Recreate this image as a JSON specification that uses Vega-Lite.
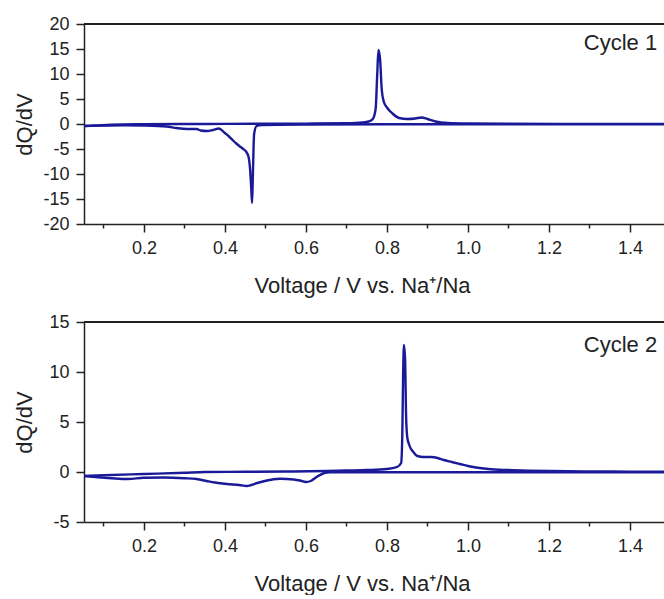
{
  "$schema": "https://vega.github.io/schema/vega-lite/v6.json",
  "padding": {"left": 13, "top": 15, "right": 0, "bottom": 1},
  "spacing": 17,
  "config": {
    "view": {"stroke": null},
    "font": "Liberation Sans",
    "axis": {
      "grid": false, "domainColor": "#222", "domainWidth": 1.5, "tickColor": "#222", "tickWidth": 1.5,
      "labelColor": "#222", "titleColor": "#222", "labelFont": "Liberation Sans", "titleFont": "Liberation Sans",
      "labelFontSize": 18, "titleFontSize": 22, "titleFontWeight": "normal", "tickSize": 8, "labelPadding": 7,
      "labelFlush": false, "labelOverlap": false
    }
  },
  "data": {"values": [
    {"cycle": 1, "branch": "charge", "v": 0.052, "dq": -0.4},
    {"cycle": 1, "branch": "charge", "v": 0.08, "dq": -0.3},
    {"cycle": 1, "branch": "charge", "v": 0.12, "dq": -0.15},
    {"cycle": 1, "branch": "charge", "v": 0.2, "dq": -0.05},
    {"cycle": 1, "branch": "charge", "v": 0.3, "dq": 0.0},
    {"cycle": 1, "branch": "charge", "v": 0.4, "dq": 0.02},
    {"cycle": 1, "branch": "charge", "v": 0.5, "dq": 0.05},
    {"cycle": 1, "branch": "charge", "v": 0.6, "dq": 0.08},
    {"cycle": 1, "branch": "charge", "v": 0.7, "dq": 0.15},
    {"cycle": 1, "branch": "charge", "v": 0.74, "dq": 0.3},
    {"cycle": 1, "branch": "charge", "v": 0.755, "dq": 0.5},
    {"cycle": 1, "branch": "charge", "v": 0.765, "dq": 1.0},
    {"cycle": 1, "branch": "charge", "v": 0.772, "dq": 3.0},
    {"cycle": 1, "branch": "charge", "v": 0.776, "dq": 10},
    {"cycle": 1, "branch": "charge", "v": 0.779, "dq": 14.8},
    {"cycle": 1, "branch": "charge", "v": 0.783, "dq": 13},
    {"cycle": 1, "branch": "charge", "v": 0.787, "dq": 7},
    {"cycle": 1, "branch": "charge", "v": 0.792, "dq": 4.5},
    {"cycle": 1, "branch": "charge", "v": 0.8, "dq": 3.3},
    {"cycle": 1, "branch": "charge", "v": 0.815, "dq": 2.0},
    {"cycle": 1, "branch": "charge", "v": 0.83, "dq": 1.2},
    {"cycle": 1, "branch": "charge", "v": 0.85, "dq": 1.0},
    {"cycle": 1, "branch": "charge", "v": 0.87, "dq": 1.1},
    {"cycle": 1, "branch": "charge", "v": 0.885, "dq": 1.3},
    {"cycle": 1, "branch": "charge", "v": 0.9, "dq": 1.0},
    {"cycle": 1, "branch": "charge", "v": 0.92, "dq": 0.5},
    {"cycle": 1, "branch": "charge", "v": 0.95, "dq": 0.2},
    {"cycle": 1, "branch": "charge", "v": 1.0, "dq": 0.1},
    {"cycle": 1, "branch": "charge", "v": 1.1, "dq": 0.05},
    {"cycle": 1, "branch": "charge", "v": 1.3, "dq": 0.03},
    {"cycle": 1, "branch": "charge", "v": 1.5, "dq": 0.02},
    {"cycle": 1, "branch": "discharge", "v": 1.5, "dq": -0.05},
    {"cycle": 1, "branch": "discharge", "v": 1.2, "dq": -0.05},
    {"cycle": 1, "branch": "discharge", "v": 1.0, "dq": -0.05},
    {"cycle": 1, "branch": "discharge", "v": 0.8, "dq": -0.05},
    {"cycle": 1, "branch": "discharge", "v": 0.6, "dq": -0.1},
    {"cycle": 1, "branch": "discharge", "v": 0.49, "dq": -0.2},
    {"cycle": 1, "branch": "discharge", "v": 0.478, "dq": -0.4},
    {"cycle": 1, "branch": "discharge", "v": 0.472, "dq": -2},
    {"cycle": 1, "branch": "discharge", "v": 0.469, "dq": -10},
    {"cycle": 1, "branch": "discharge", "v": 0.467, "dq": -15.8},
    {"cycle": 1, "branch": "discharge", "v": 0.465, "dq": -13},
    {"cycle": 1, "branch": "discharge", "v": 0.462, "dq": -9},
    {"cycle": 1, "branch": "discharge", "v": 0.458, "dq": -6.5},
    {"cycle": 1, "branch": "discharge", "v": 0.452, "dq": -5.5},
    {"cycle": 1, "branch": "discharge", "v": 0.445, "dq": -5.0},
    {"cycle": 1, "branch": "discharge", "v": 0.437, "dq": -4.5},
    {"cycle": 1, "branch": "discharge", "v": 0.428, "dq": -3.9},
    {"cycle": 1, "branch": "discharge", "v": 0.42, "dq": -3.3},
    {"cycle": 1, "branch": "discharge", "v": 0.41, "dq": -2.5},
    {"cycle": 1, "branch": "discharge", "v": 0.4, "dq": -1.8},
    {"cycle": 1, "branch": "discharge", "v": 0.39, "dq": -1.1},
    {"cycle": 1, "branch": "discharge", "v": 0.385, "dq": -0.9},
    {"cycle": 1, "branch": "discharge", "v": 0.37, "dq": -1.2},
    {"cycle": 1, "branch": "discharge", "v": 0.356, "dq": -1.4},
    {"cycle": 1, "branch": "discharge", "v": 0.34, "dq": -1.3},
    {"cycle": 1, "branch": "discharge", "v": 0.33, "dq": -1.0},
    {"cycle": 1, "branch": "discharge", "v": 0.306, "dq": -1.0},
    {"cycle": 1, "branch": "discharge", "v": 0.28, "dq": -0.8},
    {"cycle": 1, "branch": "discharge", "v": 0.256, "dq": -0.5},
    {"cycle": 1, "branch": "discharge", "v": 0.2, "dq": -0.3},
    {"cycle": 1, "branch": "discharge", "v": 0.15, "dq": -0.25},
    {"cycle": 1, "branch": "discharge", "v": 0.1, "dq": -0.3},
    {"cycle": 1, "branch": "discharge", "v": 0.052, "dq": -0.4},
    {"cycle": 2, "branch": "charge", "v": 0.052, "dq": -0.4},
    {"cycle": 2, "branch": "charge", "v": 0.1, "dq": -0.32},
    {"cycle": 2, "branch": "charge", "v": 0.2, "dq": -0.2},
    {"cycle": 2, "branch": "charge", "v": 0.3, "dq": -0.08},
    {"cycle": 2, "branch": "charge", "v": 0.35, "dq": 0.0},
    {"cycle": 2, "branch": "charge", "v": 0.45, "dq": 0.02},
    {"cycle": 2, "branch": "charge", "v": 0.55, "dq": 0.05},
    {"cycle": 2, "branch": "charge", "v": 0.65, "dq": 0.1},
    {"cycle": 2, "branch": "charge", "v": 0.7, "dq": 0.15},
    {"cycle": 2, "branch": "charge", "v": 0.75, "dq": 0.2},
    {"cycle": 2, "branch": "charge", "v": 0.8, "dq": 0.3},
    {"cycle": 2, "branch": "charge", "v": 0.825, "dq": 0.5},
    {"cycle": 2, "branch": "charge", "v": 0.835, "dq": 0.9},
    {"cycle": 2, "branch": "charge", "v": 0.838, "dq": 4},
    {"cycle": 2, "branch": "charge", "v": 0.84, "dq": 10},
    {"cycle": 2, "branch": "charge", "v": 0.842, "dq": 12.7},
    {"cycle": 2, "branch": "charge", "v": 0.845, "dq": 11},
    {"cycle": 2, "branch": "charge", "v": 0.847, "dq": 6},
    {"cycle": 2, "branch": "charge", "v": 0.85, "dq": 3.5},
    {"cycle": 2, "branch": "charge", "v": 0.855, "dq": 2.7},
    {"cycle": 2, "branch": "charge", "v": 0.865, "dq": 2.0},
    {"cycle": 2, "branch": "charge", "v": 0.875, "dq": 1.6},
    {"cycle": 2, "branch": "charge", "v": 0.89, "dq": 1.5},
    {"cycle": 2, "branch": "charge", "v": 0.91, "dq": 1.5},
    {"cycle": 2, "branch": "charge", "v": 0.925, "dq": 1.4},
    {"cycle": 2, "branch": "charge", "v": 0.94, "dq": 1.2},
    {"cycle": 2, "branch": "charge", "v": 0.96, "dq": 1.0},
    {"cycle": 2, "branch": "charge", "v": 0.98, "dq": 0.8},
    {"cycle": 2, "branch": "charge", "v": 1.0, "dq": 0.6},
    {"cycle": 2, "branch": "charge", "v": 1.02, "dq": 0.45},
    {"cycle": 2, "branch": "charge", "v": 1.05, "dq": 0.3},
    {"cycle": 2, "branch": "charge", "v": 1.1, "dq": 0.2},
    {"cycle": 2, "branch": "charge", "v": 1.15, "dq": 0.14},
    {"cycle": 2, "branch": "charge", "v": 1.2, "dq": 0.1},
    {"cycle": 2, "branch": "charge", "v": 1.25, "dq": 0.07},
    {"cycle": 2, "branch": "charge", "v": 1.3, "dq": 0.05},
    {"cycle": 2, "branch": "charge", "v": 1.4, "dq": 0.04},
    {"cycle": 2, "branch": "charge", "v": 1.5, "dq": 0.03},
    {"cycle": 2, "branch": "discharge", "v": 1.5, "dq": -0.02},
    {"cycle": 2, "branch": "discharge", "v": 1.2, "dq": -0.02},
    {"cycle": 2, "branch": "discharge", "v": 1.0, "dq": -0.02},
    {"cycle": 2, "branch": "discharge", "v": 0.8, "dq": -0.02},
    {"cycle": 2, "branch": "discharge", "v": 0.66, "dq": -0.02},
    {"cycle": 2, "branch": "discharge", "v": 0.645, "dq": -0.1},
    {"cycle": 2, "branch": "discharge", "v": 0.635, "dq": -0.3},
    {"cycle": 2, "branch": "discharge", "v": 0.626, "dq": -0.5},
    {"cycle": 2, "branch": "discharge", "v": 0.612, "dq": -0.9},
    {"cycle": 2, "branch": "discharge", "v": 0.6, "dq": -1.0},
    {"cycle": 2, "branch": "discharge", "v": 0.585, "dq": -0.85},
    {"cycle": 2, "branch": "discharge", "v": 0.57, "dq": -0.75},
    {"cycle": 2, "branch": "discharge", "v": 0.536, "dq": -0.67},
    {"cycle": 2, "branch": "discharge", "v": 0.52, "dq": -0.72},
    {"cycle": 2, "branch": "discharge", "v": 0.504, "dq": -0.85},
    {"cycle": 2, "branch": "discharge", "v": 0.48, "dq": -1.1},
    {"cycle": 2, "branch": "discharge", "v": 0.465, "dq": -1.3},
    {"cycle": 2, "branch": "discharge", "v": 0.454, "dq": -1.4},
    {"cycle": 2, "branch": "discharge", "v": 0.435, "dq": -1.3},
    {"cycle": 2, "branch": "discharge", "v": 0.405, "dq": -1.2},
    {"cycle": 2, "branch": "discharge", "v": 0.375, "dq": -1.05},
    {"cycle": 2, "branch": "discharge", "v": 0.355, "dq": -0.9},
    {"cycle": 2, "branch": "discharge", "v": 0.33, "dq": -0.7},
    {"cycle": 2, "branch": "discharge", "v": 0.3, "dq": -0.62},
    {"cycle": 2, "branch": "discharge", "v": 0.25, "dq": -0.55},
    {"cycle": 2, "branch": "discharge", "v": 0.2, "dq": -0.58},
    {"cycle": 2, "branch": "discharge", "v": 0.16, "dq": -0.7},
    {"cycle": 2, "branch": "discharge", "v": 0.12, "dq": -0.62},
    {"cycle": 2, "branch": "discharge", "v": 0.08, "dq": -0.5},
    {"cycle": 2, "branch": "discharge", "v": 0.052, "dq": -0.4},
    {"cycle": 1, "label": "Cycle 1", "v": 1.467, "dq": 14.8},
    {"cycle": 2, "label": "Cycle 2", "v": 1.467, "dq": 12}
  ]},
  "vconcat": [
    {
      "width": 580, "height": 200,
      "encoding": {
        "x": {"field": "v", "type": "quantitative", "scale": {"domain": [0.052, 1.484], "nice": false, "zero": false},
          "axis": {"values": [0.1,0.2,0.3,0.4,0.5,0.6,0.7,0.8,0.9,1.0,1.1,1.2,1.3,1.4],
            "labelExpr": "round(datum.value*10) % 2 === 0 ? format(datum.value, '.1f') : ''",
            "labelOverlap": false,
            "tickSize": {"condition": {"test": "round(datum.value*10) % 2 === 0", "value": 8}, "value": 4},
            "title": "Voltage / V vs. Na⁺/Na", "titleX": 278, "titleY": 51, "titleBaseline": "top", "titleAlign": "center"}},
        "y": {"field": "dq", "type": "quantitative", "scale": {"domain": [-20, 20], "nice": false},
          "axis": {"values": [-20,-15,-10,-5,0,5,10,15,20], "labelExpr": "'' + datum.value", "labelOverlap": false,
            "title": "dQ/dV", "titleX": -60, "titleY": 100, "titleAngle": -90, "titleBaseline": "middle", "titleAlign": "center"}}
      },
      "layer": [
        {
          "transform": [{"filter": "datum.cycle === 1 && datum.branch"}],
          "mark": {"type": "line", "color": "#1a1a99", "strokeWidth": 2.4, "clip": true, "interpolate": "monotone"},
          "encoding": {"detail": {"field": "branch"}}
        },
        {
          "mark": {"type": "rule", "color": "#222", "strokeWidth": 1.5},
          "encoding": {"x": {"value": 0}, "x2": {"value": 580},
            "y": {"datum": 20, "type": "quantitative", "scale": {"domain": [-20, 20], "nice": false},
              "axis": {"values": [-20,-15,-10,-5,0,5,10,15,20], "labelExpr": "'' + datum.value", "labelOverlap": false,
                "title": "dQ/dV", "titleX": -60, "titleY": 100, "titleAngle": -90, "titleBaseline": "middle", "titleAlign": "center"}}}
        },
        {
          "transform": [{"filter": "datum.cycle === 1 && datum.label"}],
          "mark": {"type": "text", "align": "right", "baseline": "alphabetic", "fontSize": 22, "color": "#222", "font": "Liberation Sans"},
          "encoding": {"text": {"field": "label"}}
        }
      ]
    },
    {
      "width": 580, "height": 200,
      "encoding": {
        "x": {"field": "v", "type": "quantitative", "scale": {"domain": [0.052, 1.484], "nice": false, "zero": false},
          "axis": {"values": [0.1,0.2,0.3,0.4,0.5,0.6,0.7,0.8,0.9,1.0,1.1,1.2,1.3,1.4],
            "labelExpr": "round(datum.value*10) % 2 === 0 ? format(datum.value, '.1f') : ''",
            "labelOverlap": false,
            "tickSize": {"condition": {"test": "round(datum.value*10) % 2 === 0", "value": 8}, "value": 4},
            "title": "Voltage / V vs. Na⁺/Na", "titleX": 278, "titleY": 51, "titleBaseline": "top", "titleAlign": "center"}},
        "y": {"field": "dq", "type": "quantitative", "scale": {"domain": [-5, 15], "nice": false},
          "axis": {"values": [-5,0,5,10,15], "labelExpr": "'' + datum.value", "labelOverlap": false,
            "title": "dQ/dV", "titleX": -60, "titleY": 100, "titleAngle": -90, "titleBaseline": "middle", "titleAlign": "center"}}
      },
      "layer": [
        {
          "transform": [{"filter": "datum.cycle === 2 && datum.branch"}],
          "mark": {"type": "line", "color": "#1a1a99", "strokeWidth": 2.4, "clip": true, "interpolate": "monotone"},
          "encoding": {"detail": {"field": "branch"}}
        },
        {
          "mark": {"type": "rule", "color": "#222", "strokeWidth": 1.5},
          "encoding": {"x": {"value": 0}, "x2": {"value": 580},
            "y": {"datum": 15, "type": "quantitative", "scale": {"domain": [-5, 15], "nice": false},
              "axis": {"values": [-5,0,5,10,15], "labelExpr": "'' + datum.value", "labelOverlap": false,
                "title": "dQ/dV", "titleX": -60, "titleY": 100, "titleAngle": -90, "titleBaseline": "middle", "titleAlign": "center"}}}
        },
        {
          "transform": [{"filter": "datum.cycle === 2 && datum.label"}],
          "mark": {"type": "text", "align": "right", "baseline": "alphabetic", "fontSize": 22, "color": "#222", "font": "Liberation Sans"},
          "encoding": {"text": {"field": "label"}}
        }
      ]
    }
  ]
}
